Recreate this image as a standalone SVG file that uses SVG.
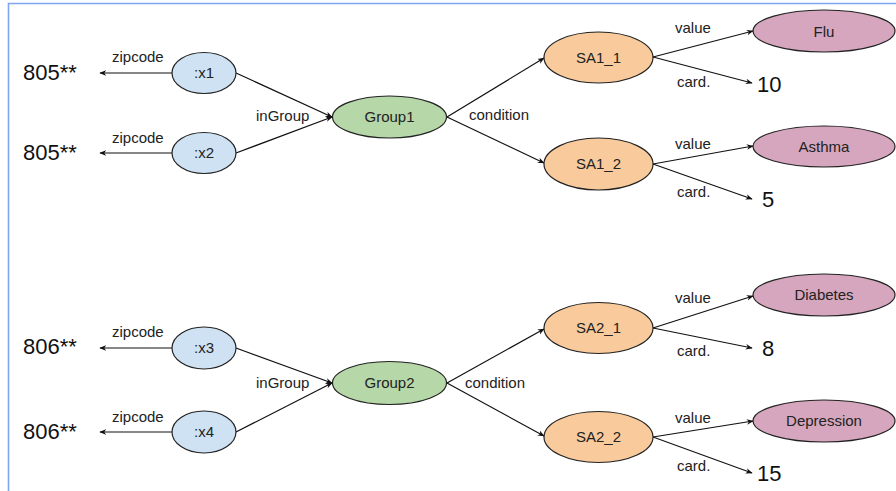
<svg xmlns="http://www.w3.org/2000/svg" width="896" height="491" viewBox="0 0 896 491">
<defs>
<style>
.lbl{font-family:"Liberation Sans",Arial,sans-serif;font-size:15px;fill:#222}
.big{font-family:"Liberation Sans",Arial,sans-serif;font-size:22px;fill:#111}
.nl{font-family:"Liberation Sans",Arial,sans-serif;font-size:15px;fill:#222;text-anchor:middle}
.e{stroke:#222;stroke-width:1.2}
.b{fill:#cfe2f3}.g{fill:#b6d7a8}.o{fill:#f9cb9c}.p{fill:#d5a6bd}
.c{stroke:#111;stroke-width:1.2;fill:none;marker-end:url(#ah)}
</style>
<marker id="ah" viewBox="0 0 10 10" refX="9" refY="5" markerWidth="7" markerHeight="7" markerUnits="userSpaceOnUse" orient="auto">
<path d="M0,1 L10,5 L0,9 L3,5 Z" fill="#111"/>
</marker>
</defs>
<rect width="896" height="491" fill="#fff"/>
<path d="M8.5,491 V3.5 H896" fill="none" stroke="#7ea6ee" stroke-width="1.6"/>
<g id="connectors">
<line class="c" x1="172" y1="73" x2="100" y2="73"/>
<line class="c" x1="172" y1="153" x2="100" y2="153"/>
<line class="c" x1="236" y1="73" x2="332" y2="117"/>
<line class="c" x1="236" y1="153" x2="332" y2="117"/>
<line class="c" x1="447" y1="117" x2="544" y2="58"/>
<line class="c" x1="447" y1="117" x2="544" y2="163"/>
<line class="c" x1="653" y1="57" x2="753" y2="31"/>
<line class="c" x1="653" y1="57" x2="752" y2="83"/>
<line class="c" x1="653" y1="164" x2="753" y2="146"/>
<line class="c" x1="653" y1="164" x2="752" y2="199"/>
<line class="c" x1="172" y1="348" x2="100" y2="348"/>
<line class="c" x1="172" y1="432" x2="100" y2="432"/>
<line class="c" x1="236" y1="348" x2="332" y2="383"/>
<line class="c" x1="236" y1="432" x2="332" y2="383"/>
<line class="c" x1="447" y1="383" x2="544" y2="329"/>
<line class="c" x1="447" y1="383" x2="544" y2="436"/>
<line class="c" x1="653" y1="328" x2="753" y2="296"/>
<line class="c" x1="653" y1="328" x2="752" y2="348"/>
<line class="c" x1="653" y1="437" x2="753" y2="421"/>
<line class="c" x1="653" y1="437" x2="752" y2="473"/>
<text class="lbl" x="112" y="62">zipcode</text>
<text class="lbl" x="112" y="143">zipcode</text>
<text class="lbl" x="112" y="337">zipcode</text>
<text class="lbl" x="112" y="422">zipcode</text>
<text class="lbl" x="256" y="121">inGroup</text>
<text class="lbl" x="256" y="388">inGroup</text>
<text class="lbl" x="469" y="120">condition</text>
<text class="lbl" x="465" y="388">condition</text>
<text class="lbl" x="675" y="33">value</text>
<text class="lbl" x="677" y="87">card.</text>
<text class="lbl" x="675" y="149">value</text>
<text class="lbl" x="677" y="197">card.</text>
<text class="lbl" x="675" y="303">value</text>
<text class="lbl" x="677" y="356">card.</text>
<text class="lbl" x="675" y="423">value</text>
<text class="lbl" x="677" y="471">card.</text>
</g>
<g id="lit-805a"><text class="big" x="23" y="80">805**</text></g>
<g id="lit-805b"><text class="big" x="23" y="160">805**</text></g>
<g id="lit-806a"><text class="big" x="23" y="354">806**</text></g>
<g id="lit-806b"><text class="big" x="23" y="439">806**</text></g>
<g id="lit-10"><text class="big" x="757" y="92">10</text></g>
<g id="lit-5"><text class="big" x="762" y="207">5</text></g>
<g id="lit-8"><text class="big" x="762" y="356">8</text></g>
<g id="lit-15"><text class="big" x="757" y="481">15</text></g>
<g id="x1"><ellipse class="e b" cx="204" cy="73" rx="32" ry="20.5"/><text class="nl" x="204" y="78">:x1</text></g>
<g id="x2"><ellipse class="e b" cx="204" cy="153" rx="32" ry="20.5"/><text class="nl" x="204" y="158">:x2</text></g>
<g id="x3"><ellipse class="e b" cx="204" cy="348" rx="32" ry="21"/><text class="nl" x="204" y="353">:x3</text></g>
<g id="x4"><ellipse class="e b" cx="204" cy="432" rx="32" ry="21"/><text class="nl" x="204" y="437">:x4</text></g>
<g id="group1"><ellipse class="e g" cx="389.5" cy="117" rx="57" ry="21"/><text class="nl" x="389.5" y="122">Group1</text></g>
<g id="group2"><ellipse class="e g" cx="389.5" cy="383" rx="57" ry="21.5"/><text class="nl" x="389.5" y="388">Group2</text></g>
<g id="sa1_1"><ellipse class="e o" cx="598.5" cy="57.5" rx="54.5" ry="25.5"/><text class="nl" x="598.5" y="63">SA1_1</text></g>
<g id="sa1_2"><ellipse class="e o" cx="598.5" cy="164" rx="54.5" ry="26"/><text class="nl" x="598.5" y="169">SA1_2</text></g>
<g id="sa2_1"><ellipse class="e o" cx="598.5" cy="328" rx="54.5" ry="25.5"/><text class="nl" x="598.5" y="333">SA2_1</text></g>
<g id="sa2_2"><ellipse class="e o" cx="598.5" cy="437" rx="54.5" ry="25.5"/><text class="nl" x="598.5" y="442">SA2_2</text></g>
<g id="flu"><ellipse class="e p" cx="824" cy="31" rx="71" ry="21"/><text class="nl" x="824" y="37">Flu</text></g>
<g id="asthma"><ellipse class="e p" cx="824" cy="146.5" rx="71" ry="20.5"/><text class="nl" x="824" y="152">Asthma</text></g>
<g id="diabetes"><ellipse class="e p" cx="824" cy="295" rx="71" ry="21"/><text class="nl" x="824" y="300">Diabetes</text></g>
<g id="depression"><ellipse class="e p" cx="824" cy="421" rx="71" ry="21"/><text class="nl" x="824" y="426">Depression</text></g>
</svg>
